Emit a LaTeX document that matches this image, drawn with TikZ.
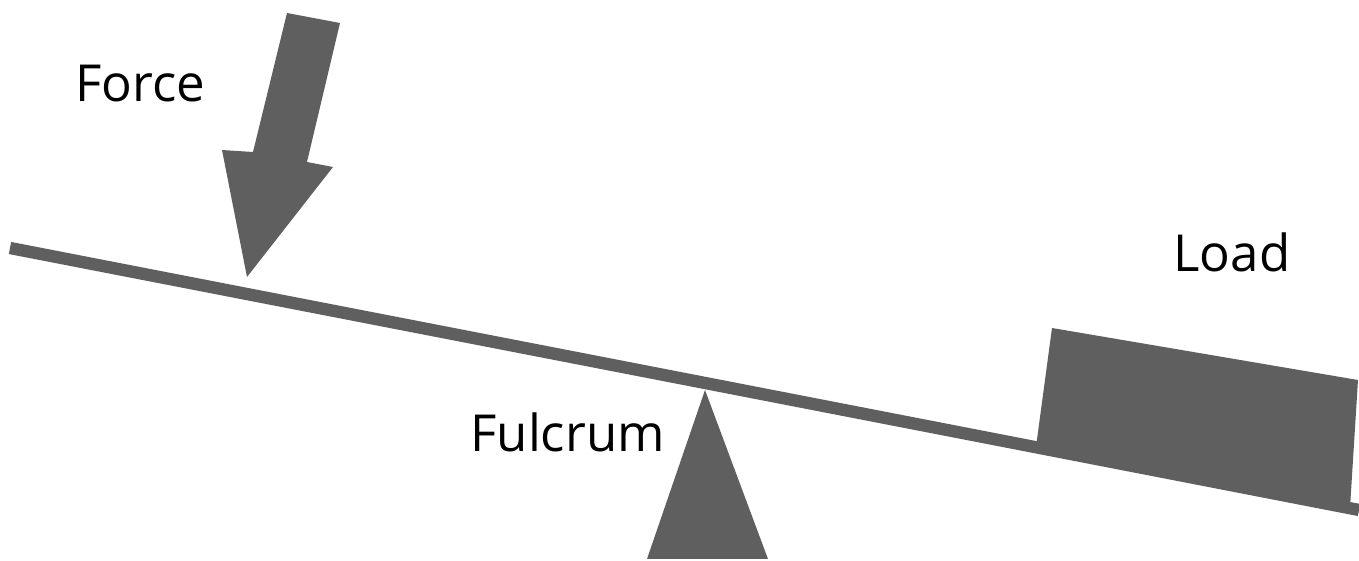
\documentclass[tikz,border=0pt]{standalone}
\usepackage{fontspec}
\setmainfont{Open Sans}
\definecolor{levergray}{HTML}{5F5F5F}

\begin{document}
\begin{tikzpicture}[x=0.01cm,y=-0.01cm,line width=0.8pt,
  part/.style={fill=levergray,draw=none},
  lbl/.style={anchor=base west,inner sep=0pt,font=\fontsize{14.5}{17}\selectfont}]
\useasboundingbox (0,0) rectangle (1359,561);
% ---------- beam ----------
\coordinate (beamL) at (10,248);
\coordinate (beamR) at (1359,510);
\draw[levergray,line width=3.5pt] (beamL) -- (beamR);
% ---------- force arrow ----------
\fill[part] (287,13) -- (340,23) -- (307,162) -- (333,167) -- (247,277)
  -- (222,150) -- (253,152) -- cycle;
% ---------- load ----------
\fill[part] (1052,328) -- (1358,380) -- (1350,508) -- (1036,447) -- cycle;
% ---------- fulcrum ----------
\fill[part] (705,390) -- (768,559) -- (647,559) -- cycle;
% ---------- labels ----------
\node[lbl] (force) at (74,102) {Force};
\node[lbl] (load) at (1172,272) {Load};
\node[lbl] (fulcrum) at (469,452) {Fulcrum};
\end{tikzpicture}
\end{document}
